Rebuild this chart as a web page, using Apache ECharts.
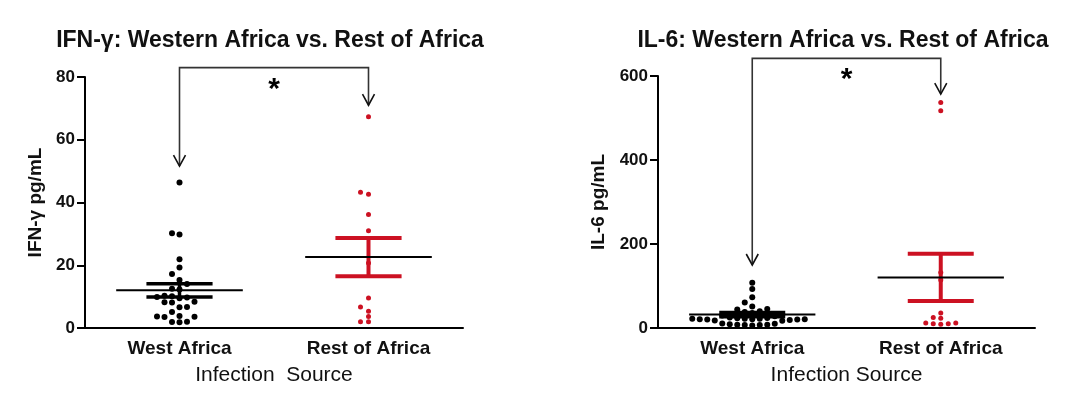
<!DOCTYPE html>
<html><head><meta charset="utf-8">
<script src="https://cdn.jsdelivr.net/npm/echarts@6/dist/echarts.min.js"></script>
<style>html,body{margin:0;padding:0;background:#fff}#c{width:1075px;height:408px}</style>
</head><body><div id="c"></div>
<script>
// ---------- data ----------
const categories = ['West Africa', 'Rest of Africa'];
const titles = ['IFN-\u03b3: Western Africa vs. Rest of Africa', 'IL-6: Western Africa vs. Rest of Africa'];
const yNames = ['IFN-\u03b3 pg/mL', 'IL-6 pg/mL'];
const xNames = ['Infection  Source', 'Infection Source'];
const ifnWest = [46.4, 30.2, 29.8, 21.9, 19.3, 17.2, 15.3, 14.0, 12.5, 12.3, 10.3, 10.1, 9.9, 9.7, 9.5, 8.4, 8.2, 8.1, 6.7, 6.6, 5.1, 3.8, 3.7, 3.6, 3.5, 2.0, 1.9, 1.8];
const ifnRest = [67.3, 43.3, 42.6, 36.2, 31.0, 20.7, 9.6, 6.7, 5.3, 3.7, 2.0, 2.0];
const il6West = [108, 93, 73, 61, 51, 45, 44, 40, 38, 36, 33, 30, 28, 25, 24, 23, 22, 22, 21, 21, 20, 20, 19, 18, 17, 21, 22, 11, 10, 9, 8, 8, 7, 7, 6];
const il6Rest = [537, 517, 132, 114, 36, 25, 23, 12, 10, 9, 10, 12];
const ifnMean = [12.0, 22.6];
const ifnSem = [2.1, 6.1];
const il6Mean = [32, 120.5];
const il6Sem = [5, 56];
const ifnTicks = [0, 20, 40, 60, 80];
const il6Ticks = [0, 200, 400, 600];
// significance annotation, in data units: [top of bracket, left arrow tip, right arrow tip, star level]
const ifnBracket = [83, 51.6, 71, 76];
const il6Bracket = [642, 150, 557, 592];
const sigLabel = '*';

// ---------- layout / style ----------
const RED = '#cc1122';
const grids = [
  {left: 85, top: 77, width: 378, height: 251},
  {left: 658, top: 76, width: 377, height: 252}
];
const FONT = 'Arial, "Liberation Sans", sans-serif';

function beeswarm(values, pxPerUnit, spacing, minDist) {
  const idx = values.map((v, i) => i).sort((a, b) => values[a] - values[b]);
  const placed = [];
  const out = new Array(values.length).fill(0);
  idx.forEach(i => {
    const y = values[i] * pxPerUnit;
    for (let k = 0; k < 60; k++) {
      const slot = k === 0 ? 0 : (k % 2 === 1 ? -Math.ceil(k / 2) : Math.ceil(k / 2));
      const x = slot * spacing;
      const hit = placed.some(p => (p[0] - x) ** 2 + (p[1] - y) ** 2 < minDist * minDist);
      if (!hit) { placed.push([x, y]); out[i] = x; break; }
    }
  });
  return out;
}

function dotSeries(values, cat, gi, ticks, color, size, spacing, minDist) {
  const ppu = grids[gi].height / (ticks[ticks.length - 1] - ticks[0]);
  const off = beeswarm(values, ppu, spacing, minDist);
  return {
    type: 'scatter', xAxisIndex: gi, yAxisIndex: gi, symbol: 'circle', symbolSize: size,
    itemStyle: {color: color, opacity: 1}, silent: true, z: 2,
    data: values.map((v, i) => ({value: [cat, v], symbolOffset: [off[i], 0]}))
  };
}

function errSeries(gi, means, sems) {
  return {
    type: 'custom', xAxisIndex: gi, yAxisIndex: gi, z: 3, silent: true,
    data: categories.map((c, i) => [i, means[i], sems[i]]),
    renderItem: function (params, api) {
      const i = api.value(0), m = api.value(1), s = api.value(2);
      const c = api.coord([i, m]), up = api.coord([i, m + s]), lo = api.coord([i, m - s]);
      const band = api.size([1, 0])[0];
      const capW = band * 0.35, meanW = band * 0.67;
      const color = i === 0 ? '#000' : RED;
      const w = i === 0 ? 3.5 : 4;
      return {type: 'group', children: [
        {type: 'line', shape: {x1: c[0], y1: up[1], x2: c[0], y2: lo[1]}, style: {stroke: color, lineWidth: w}},
        {type: 'line', shape: {x1: c[0] - capW / 2, y1: up[1], x2: c[0] + capW / 2, y2: up[1]}, style: {stroke: color, lineWidth: w}},
        {type: 'line', shape: {x1: c[0] - capW / 2, y1: lo[1], x2: c[0] + capW / 2, y2: lo[1]}, style: {stroke: color, lineWidth: w}},
        {type: 'line', shape: {x1: c[0] - meanW / 2, y1: c[1], x2: c[0] + meanW / 2, y2: c[1]}, style: {stroke: '#000', lineWidth: 2}, z2: 5}
      ]};
    }
  };
}

function bracketSeries(gi, br) {
  return {
    type: 'custom', xAxisIndex: gi, yAxisIndex: gi, z: 4, silent: true, clip: false,
    data: [[0, 1, br[0], br[1], br[2], br[3]]],
    renderItem: function (params, api) {
      const a = api.value(0), b = api.value(1);
      const top = api.value(2), tl = api.value(3), tr = api.value(4), st = api.value(5);
      const p1 = api.coord([a, top]), p2 = api.coord([b, top]);
      const l = api.coord([a, tl]), r = api.coord([b, tr]);
      const s = api.coord([a, st]);
      const head = (x, y) => ({type: 'polyline', shape: {points: [[x - 6, y - 11], [x, y], [x + 6, y - 11]]},
        style: {stroke: '#111', lineWidth: 1.6, fill: null}});
      return {type: 'group', children: [
        {type: 'polyline', shape: {points: [[l[0], l[1]], [p1[0], p1[1]], [p2[0], p2[1]], [r[0], r[1]]]},
          style: {stroke: '#333', lineWidth: 1.6, fill: null}},
        head(l[0], l[1]), head(r[0], r[1]),
        {type: 'text', x: (p1[0] + p2[0]) / 2, y: s[1],
          style: {text: sigLabel, fontSize: 30, fontWeight: 'bold', fontFamily: FONT, fill: '#000', align: 'center', verticalAlign: 'middle'}}
      ]};
    }
  };
}

function xAxis(gi) {
  return {
    type: 'category', gridIndex: gi, data: categories, boundaryGap: true,
    axisLine: {lineStyle: {color: '#000', width: 2}},
    axisTick: {alignWithLabel: true, length: 6, lineStyle: {width: 2, color: '#000'}},
    axisLabel: {margin: 11, fontSize: 19, fontWeight: 'bold', color: '#111', fontFamily: FONT},
    name: xNames[gi], nameLocation: 'middle', nameGap: 37,
    nameTextStyle: {fontSize: 21, color: '#111', fontFamily: FONT},
    splitLine: {show: false}
  };
}
function yAxis(gi, ticks, gap) {
  return {
    type: 'value', gridIndex: gi, min: ticks[0], max: ticks[ticks.length - 1], interval: ticks[1] - ticks[0],
    axisLine: {show: true, lineStyle: {color: '#000', width: 2}},
    axisTick: {show: true, length: 8, lineStyle: {width: 2, color: '#000'}},
    axisLabel: {margin: 10, fontSize: 17, fontWeight: 'bold', color: '#111', fontFamily: FONT},
    splitLine: {show: false},
    name: yNames[gi], nameLocation: 'middle', nameGap: gap, nameRotate: 90,
    nameTextStyle: {fontSize: 19, fontWeight: 'bold', color: '#111', fontFamily: FONT}
  };
}

const chart = echarts.init(document.getElementById('c'), null, {renderer: 'canvas'});
chart.setOption({
  animation: false,
  backgroundColor: '#fff',
  title: [
    {text: titles[0], left: 270, top: 29, textAlign: 'center', padding: 0,
      textStyle: {fontSize: 23, fontWeight: 'bold', color: '#111', fontFamily: FONT}},
    {text: titles[1], left: 843, top: 29, textAlign: 'center', padding: 0,
      textStyle: {fontSize: 23, fontWeight: 'bold', color: '#111', fontFamily: FONT}}
  ],
  grid: grids.map(g => Object.assign({containLabel: false}, g)),
  xAxis: [xAxis(0), xAxis(1)],
  yAxis: [yAxis(0, ifnTicks, 40), yAxis(1, il6Ticks, 50)],
  series: [
    dotSeries(ifnWest, 0, 0, ifnTicks, '#000', 6, 7.5, 6),
    dotSeries(ifnRest, 1, 0, ifnTicks, RED, 5, 8, 5),
    dotSeries(il6West, 0, 1, il6Ticks, '#000', 6, 7.5, 6),
    dotSeries(il6Rest, 1, 1, il6Ticks, RED, 5, 7.5, 5),
    errSeries(0, ifnMean, ifnSem),
    errSeries(1, il6Mean, il6Sem),
    bracketSeries(0, ifnBracket),
    bracketSeries(1, il6Bracket)
  ]
});
</script></body></html>
